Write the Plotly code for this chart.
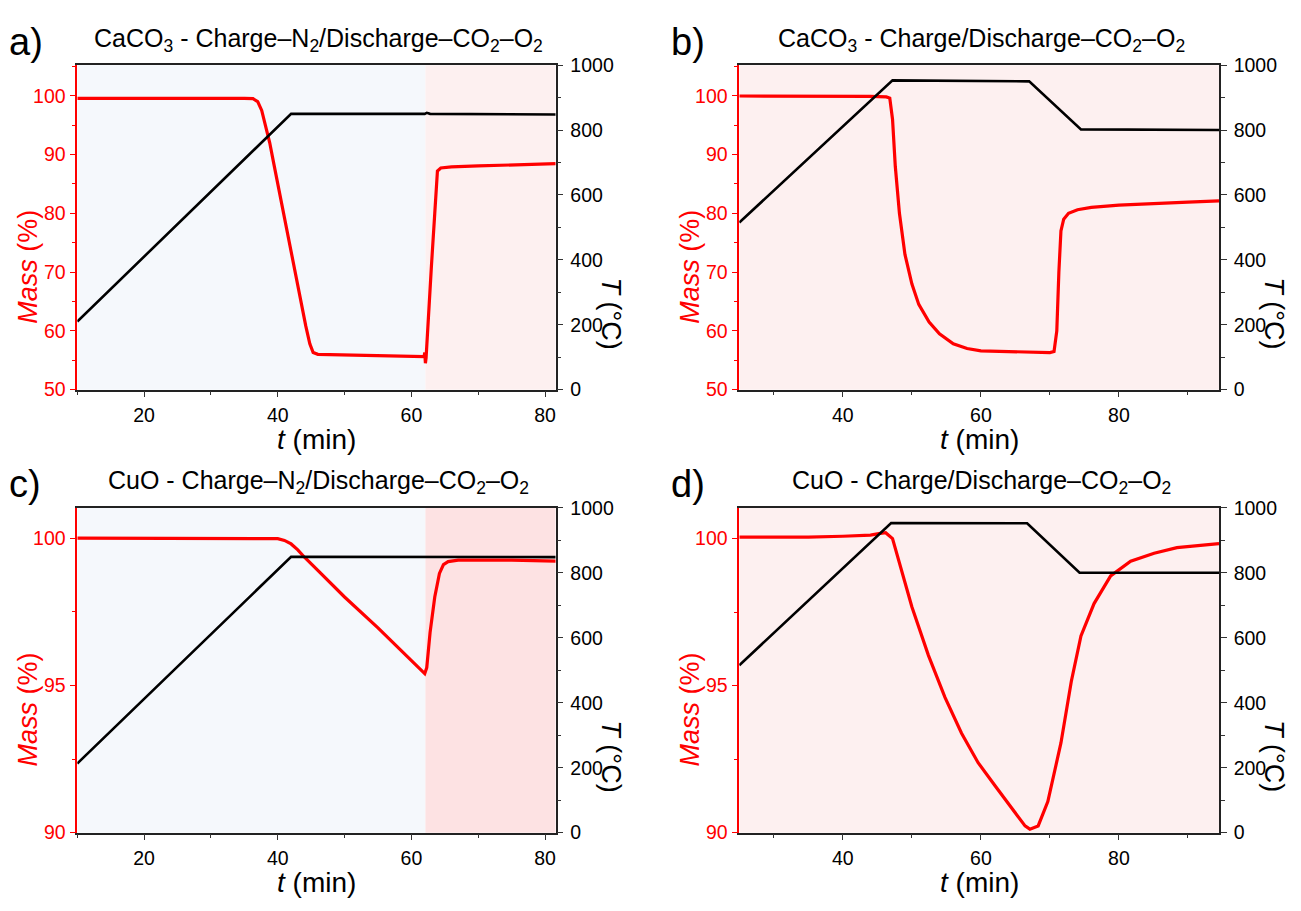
import plotly.graph_objects as go

# ---------------- data ----------------
# panel a: CaCO3 - Charge-N2 / Discharge-CO2-O2
a_mass_t = [10, 20, 30, 35, 36.3, 37.0, 37.6, 38.2, 38.8, 39.4, 40.0, 40.6, 41.2, 41.8, 42.4, 43.0, 43.6, 44.2,
            44.8, 45.3, 46, 50, 55, 61.9, 62.0, 62.1, 62.2, 62.5, 63.0, 63.5, 63.9, 64.4, 66, 70, 75, 81.6]
a_mass = [99.55, 99.6, 99.6, 99.55, 99.5, 99.0, 97.5, 95.0, 92.0, 88.5, 85.0, 81.5, 78.0, 74.5, 71.0, 67.5, 64.0, 60.8,
          57.8, 56.3, 56.0, 55.9, 55.75, 55.6, 56.3, 54.5, 55.4, 61.8, 71.0, 80.0, 87.2, 87.7, 87.9, 88.05, 88.25, 88.45]
a_temp_t = [10, 42, 62.0, 62.3, 62.8, 81.6]
a_temp = [210, 850, 850, 853, 850, 848]

# panel b: CaCO3 - Charge / Discharge-CO2-O2
b_mass_t = [25, 35, 44, 46.3, 46.8, 47.2, 47.6, 48.2, 49, 50, 51, 52.5, 54, 56, 58, 60, 65, 70, 70.6, 71, 71.3,
            71.6, 72, 72.7, 74, 76, 80, 85, 90, 94.5]
b_mass = [99.95, 99.95, 99.9, 99.8, 99.6, 96, 88, 80, 73, 68, 64.5, 61.5, 59.5, 57.8, 57, 56.6, 56.4, 56.3, 56.5, 60,
          70, 77, 79, 80, 80.6, 81, 81.4, 81.7, 81.9, 82.1]
b_temp_t = [25, 47.2, 67.0, 74.5, 94.5]
b_temp = [515, 953, 950, 802, 800]

# panel c: CuO - Charge-N2 / Discharge-CO2-O2
c_mass_t = [10, 20, 30, 38, 40, 41, 42, 43, 44, 46, 50, 55, 60, 61.5, 62, 62.3, 62.8, 63.5, 64.2, 64.8, 65.5, 67,
            75, 81.6]
c_mass = [100.0, 100.0, 100.0, 100.0, 99.98, 99.92, 99.8, 99.6, 99.35, 98.9, 98.0, 96.95, 95.85, 95.5, 95.4, 95.6,
          96.8, 98.0, 98.8, 99.1, 99.2, 99.25, 99.25, 99.22]
c_temp_t = [10, 42, 81.6]
c_temp = [213, 849, 848]

# panel d: CuO - Charge / Discharge-CO2-O2
d_mass_t = [25, 35, 40, 44, 45.2, 46.2, 47.2, 50.0, 52.4, 54.8, 57.2, 59.6, 62.0, 64.4, 66.4, 67.1, 68.3, 69.7, 71.6,
            73.1, 74.5, 76.4, 78.8, 81.7, 85.1, 88.4, 94.5]
d_mass = [100.05, 100.05, 100.08, 100.12, 100.17, 100.2, 100.0, 97.68, 96.03, 94.6, 93.38, 92.38, 91.61, 90.84,
          90.23, 90.12, 90.23, 91.06, 93.05, 95.14, 96.69, 97.79, 98.73, 99.23, 99.5, 99.69, 99.83]
d_temp_t = [25, 47.0, 66.7, 74.3, 94.5]
d_temp = [515, 953, 952, 800, 800]

titles = [
    "CaCO<sub>3</sub> - Charge–N<sub>2</sub>/Discharge–CO<sub>2</sub>–O<sub>2</sub>",
    "CaCO<sub>3</sub> - Charge/Discharge–CO<sub>2</sub>–O<sub>2</sub>",
    "CuO - Charge–N<sub>2</sub>/Discharge–CO<sub>2</sub>–O<sub>2</sub>",
    "CuO - Charge/Discharge–CO<sub>2</sub>–O<sub>2</sub>",
]
panel_labels = ["a)", "b)", "c)", "d)"]

# ---------------- layout geometry ----------------
W, H = 1301, 911
FONT = "Liberation Sans, Arial, sans-serif"
RED = "#FF0000"
BLUE_BG = "#F5F8FC"
PINK_BG = "#FDF0F0"
PINK_BG2 = "#FDE2E3"

xdom_l = [77.3 / W, 555.7 / W]
xdom_r = [739.3 / W, 1219.0 / W]
ydom_t = [(H - 388) / H, (H - 55.5) / H]
ydom_b = [(H - 842) / H, (H - 509) / H]

panels = [
    dict(xd=xdom_l, yd=ydom_t, xr=[10, 81.6], yr=[50, 105.2], ydt=10, ymin=5,
         mt=a_mass_t, m=a_mass, tt=a_temp_t, T=a_temp,
         bg=[(10, 62.1, BLUE_BG), (62.1, 81.6, PINK_BG)]),
    dict(xd=xdom_r, yd=ydom_t, xr=[25, 94.5], yr=[50, 105.2], ydt=10, ymin=5,
         mt=b_mass_t, m=b_mass, tt=b_temp_t, T=b_temp,
         bg=[(25, 94.5, PINK_BG)]),
    dict(xd=xdom_l, yd=ydom_b, xr=[10, 81.6], yr=[90, 101.03], ydt=5, ymin=2.5,
         mt=c_mass_t, m=c_mass, tt=c_temp_t, T=c_temp,
         bg=[(10, 62.1, BLUE_BG), (62.1, 81.6, PINK_BG2)]),
    dict(xd=xdom_r, yd=ydom_b, xr=[25, 94.5], yr=[90, 101.05], ydt=5, ymin=2.5,
         mt=d_mass_t, m=d_mass, tt=d_temp_t, T=d_temp,
         bg=[(25, 94.5, PINK_BG)]),
]

fig = go.Figure()
layout = dict(
    width=W, height=H, margin=dict(l=0, r=0, t=0, b=0),
    paper_bgcolor="white", plot_bgcolor="rgba(0,0,0,0)",
    font=dict(family=FONT, size=20, color="black"),
    showlegend=False, shapes=[], annotations=[],
)

TICKFONT = 19.5
for i, p in enumerate(panels):
    n = i + 1
    xname = "x" if n == 1 else f"x{n}"
    yl = 2 * n - 1
    yr_ = 2 * n
    ylname = "y" if yl == 1 else f"y{yl}"
    yrname = f"y{yr_}"

    fig.add_trace(go.Scatter(x=p["mt"], y=p["m"], xaxis=xname, yaxis=ylname, mode="lines",
                             line=dict(color=RED, width=3.2), hoverinfo="skip"))
    fig.add_trace(go.Scatter(x=p["tt"], y=p["T"], xaxis=xname, yaxis=yrname, mode="lines",
                             line=dict(color="black", width=2.6), hoverinfo="skip"))

    layout["xaxis" if n == 1 else f"xaxis{n}"] = dict(
        domain=p["xd"], anchor=ylname, range=p["xr"], dtick=20, tick0=0,
        ticks="outside", ticklen=6, tickwidth=1.2, tickcolor="#333", ticklabelstandoff=1,
        minor=dict(ticks="outside", ticklen=4, dtick=10, tick0=0, tickcolor="#333", tickwidth=1.2),
        showline=True, linecolor="#222", linewidth=1.5, mirror=True,
        showgrid=False, zeroline=False, tickfont=dict(size=TICKFONT, family=FONT),
    )
    layout["yaxis" if yl == 1 else f"yaxis{yl}"] = dict(
        domain=p["yd"], anchor=xname, range=p["yr"], dtick=p["ydt"], tick0=0,
        ticks="outside", ticklen=6, tickwidth=1.2, tickcolor=RED,
        minor=dict(ticks="outside", ticklen=4, dtick=p["ymin"], tick0=0, tickcolor=RED, tickwidth=1.2),
        showline=True, linecolor=RED, linewidth=1.5,
        showgrid=False, zeroline=False, tickfont=dict(size=TICKFONT, color=RED, family=FONT),
    )
    layout[f"yaxis{yr_}"] = dict(
        overlaying=ylname, side="right", anchor=xname, range=[0, 1000], dtick=200, tick0=0,
        ticks="outside", ticklen=6, tickwidth=1.2, tickcolor="#333", ticklabelstandoff=3,
        minor=dict(ticks="outside", ticklen=4, dtick=100, tick0=0, tickcolor="#333", tickwidth=1.2),
        showline=True, linecolor="#222", linewidth=1.5,
        showgrid=False, zeroline=False, tickfont=dict(size=TICKFONT, family=FONT),
    )

    for (x0, x1, col) in p["bg"]:
        layout["shapes"].append(dict(type="rect", xref=xname, yref=f"{ylname} domain", x0=x0, x1=x1, y0=0, y1=1,
                                     fillcolor=col, line=dict(width=0), layer="below"))

    xd, yd = p["xd"], p["yd"]
    xc = (xd[0] + xd[1]) / 2
    # title
    layout["annotations"].append(dict(text=titles[i], xref="paper", yref="paper", x=xc + 2 / W,
                                      y=yd[1] + 26 / H, xanchor="center", yanchor="middle", showarrow=False,
                                      font=dict(size=25, family=FONT)))
    # panel label
    layout["annotations"].append(dict(text=panel_labels[i], xref="paper", yref="paper",
                                      x=xd[0] - 70 / W, y=yd[1] + 24 / H, xanchor="left", yanchor="middle",
                                      showarrow=False, font=dict(size=38, family=FONT)))
    # x title
    layout["annotations"].append(dict(text="<i>t</i> (min)", xref="paper", yref="paper", x=xc,
                                      y=yd[0] - 51 / H, xanchor="center", yanchor="middle", showarrow=False,
                                      font=dict(size=28, family=FONT)))
    # left y title
    layout["annotations"].append(dict(text="<i>Mass</i> (%)", xref="paper", yref="paper", x=xd[0] - 49 / W,
                                      y=(yd[0] + yd[1]) / 2 - 40 / H, xanchor="center", yanchor="middle",
                                      textangle=-90, showarrow=False, font=dict(size=27, color=RED, family=FONT)))
    # right y title
    layout["annotations"].append(dict(text="<i>T</i> (°C)", xref="paper", yref="paper", x=xd[1] + 55 / W,
                                      y=(yd[0] + yd[1]) / 2 - 88 / H, xanchor="center", yanchor="middle",
                                      textangle=90, showarrow=False, font=dict(size=27, family=FONT)))

fig.update_layout(**layout)
fig.write_html("out.html")
